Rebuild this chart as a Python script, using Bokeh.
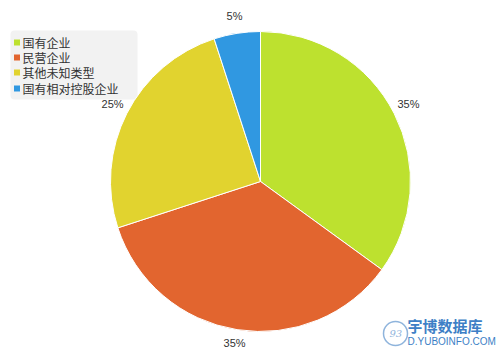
import math
from bokeh.plotting import figure
from bokeh.models import ColumnDataSource, BoxAnnotation, Range1d
from bokeh.core.properties import value
from bokeh.embed import file_html
from bokeh.resources import INLINE

categories = ["国有企业", "民营企业", "其他未知类型", "国有相对控股企业"]
shares = [35, 35, 25, 5]
labels = ["35%", "35%", "25%", "5%"]
colors = ["#BDE12F", "#E2652F", "#E1D32F", "#3098E1"]

W, H = 500, 360
p = figure(width=W, height=H, output_backend="svg", toolbar_location=None,
           x_range=Range1d(0, W), y_range=Range1d(0, H), min_border=0,
           outline_line_color=None, background_fill_color="white")
p.axis.visible = False
p.grid.visible = False

cx, cy, r = 260, 179, 150
total = sum(shares)
starts, ends, mids = [], [], []
cum = 0
for s in shares:
    a0 = math.pi / 2 - 2 * math.pi * cum / total
    cum += s
    a1 = math.pi / 2 - 2 * math.pi * cum / total
    starts.append(a1)
    ends.append(a0)
    mids.append((a0 + a1) / 2)

src = ColumnDataSource(dict(start=starts, end=ends, color=colors))
p.wedge(x=cx, y=cy, radius=r, start_angle="start", end_angle="end",
        fill_color="color", line_color="white", line_width=1, source=src)

lr = 166
lx = [cx + lr * math.cos(m) for m in mids]
ly = [cy + 2 + lr * math.sin(m) for m in mids]
p.text(x=lx, y=ly, text=labels, text_align="center", text_baseline="middle",
       text_font=value("Liberation Sans"), text_font_size="11px", text_color="#333333")

# legend
p.add_layout(BoxAnnotation(left=10, right=137, bottom=261, top=330,
                           fill_color="#f2f2f2", fill_alpha=1, line_color=None,
                           border_radius=4, level="underlay"))
rows = [318, 303, 288, 272]
p.rect(x=[16.5] * 4, y=rows, width=6, height=6, fill_color=colors, line_color=None)
p.text(x=[22] * 4, y=rows, text=categories, text_baseline="middle",
       text_font=value("Noto Sans CJK SC"), text_font_size="12px", text_color="#333333")

# watermark
p.scatter(x=[395], y=[27], size=24, marker="circle", fill_color=None,
          line_color="#8fb4dc", line_width=1.5)
p.text(x=[389], y=[27], text=["93"], text_baseline="middle", text_align="left",
       text_font=value("DejaVu Serif"), text_font_size="10px", text_color="#8fb4dc",
       text_font_style="italic")
p.text(x=[407], y=[35], text=["宇博数据库"], text_baseline="middle",
       text_font=value("Noto Sans CJK SC"), text_font_size="15px", text_color="#3d7fc6",
       text_font_style="bold")
p.text(x=[407], y=[19], text=["D.YUBOINFO.COM"], text_baseline="middle",
       text_font=value("Liberation Sans"), text_font_size="10px", text_color="#3d7fc6")

open("out.html", "w").write(file_html(p, INLINE))
